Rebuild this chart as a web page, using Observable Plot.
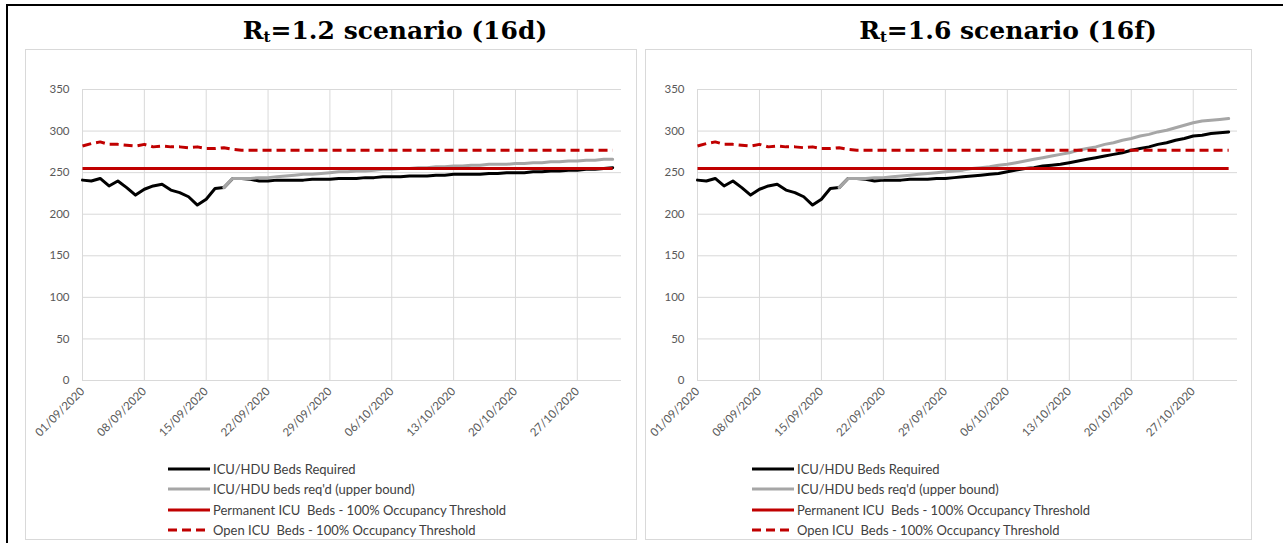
<!DOCTYPE html>
<html>
<head>
<meta charset="utf-8">
<script src="https://cdn.jsdelivr.net/npm/d3@7"></script>
<script src="https://cdn.jsdelivr.net/npm/@observablehq/plot@0.6"></script>
<style>
  html, body { margin: 0; padding: 0; background: #fff; overflow: hidden; }
  #page { position: relative; width: 1283px; height: 543px; overflow: hidden; background: #fff; }
  .bline { position: absolute; background: #000; }
  .panel { position: absolute; border: 1px solid #d9d9d9; box-sizing: border-box; background: #fff; }
  .panel svg { position: absolute; left: 0; top: 0; }
  .title { position: absolute; font-family: "DejaVu Serif", serif; font-weight: bold; font-size: 25px; color: #000; white-space: nowrap; transform: translateX(-50%); line-height: 1; }
  .title sub { font-size: 15px; vertical-align: -3px; line-height: 0; }
  .legend { position: absolute; font-family: Lato, "Noto Sans", sans-serif; font-size: 13px; color: #404040; }
  .legend .row { display: flex; align-items: center; height: 20.3px; white-space: pre; }
  .legend svg { position: static; margin-right: 3px; }
</style>
</head>
<body>
<div id="page"></div>
<script>
// ---------------- data ----------------
const startDate = "01/09/2020";           // first day of every series
const xTickLabels = ["01/09/2020","08/09/2020","15/09/2020","22/09/2020","29/09/2020","06/10/2020","13/10/2020","20/10/2020","27/10/2020"];
const xDomain = ["01/09/2020", "01/11/2020"];
const yTicks = [0, 50, 100, 150, 200, 250, 300, 350];

const seriesNames = [
  "ICU/HDU Beds Required",
  "ICU/HDU beds req'd (upper bound)",
  "Permanent ICU  Beds - 100% Occupancy Threshold",
  "Open ICU  Beds - 100% Occupancy Threshold"
];
const seriesColors = ["#000000", "#a6a6a6", "#c00000", "#c00000"];

// ICU/HDU beds required, 01/09 .. 31/10 (Rt = 1.2)
const requiredRt12 = [241,240,243,234,240,232,223,230,234,236,229,226,221,211,218,231,232,
  243,243,242,240,240,241,241,241,241,242,242,242,243,243,243,244,244,245,245,245,246,246,246,
  247,247,248,248,248,248,249,249,250,250,250,251,251,252,252,253,253,254,254,255,256];
// upper bound, starting 17/09 (Rt = 1.2)
const upperStart = "17/09/2020";
const upperRt12 = [232,243,243,243,244,244,245,246,247,248,248,249,250,251,251,252,252,253,254,254,
  255,255,256,256,257,257,258,258,259,259,260,260,260,261,261,262,262,263,263,264,264,265,265,266,266];

// ICU/HDU beds required, 01/09 .. 31/10 (Rt = 1.6)
const requiredRt16 = [241,240,243,234,240,232,223,230,234,236,229,226,221,211,218,231,232,
  243,243,242,240,241,241,241,242,242,242,243,243,244,245,246,247,248,249,251,253,255,256,258,
  259,260,262,264,266,268,270,272,274,277,279,281,284,286,289,291,294,295,297,298,299];
// upper bound, starting 17/09 (Rt = 1.6)
const upperRt16 = [232,243,243,243,244,244,245,246,247,248,249,250,251,252,253,255,256,257,259,260,
  262,264,266,268,270,272,274,277,279,281,284,286,289,291,294,296,299,301,304,307,310,312,313,314,315];

const permanentBeds = 255;
const permanentEnd = "31/10/2020";
// open ICU beds, 01/09 .. 31/10
const openBeds = [282,285,287,284,284,283,282,284,281,282,281,281,280,281,279,279,280,278,277,277,
  277,277,277,277,277,277,277,277,277,277,277,277,277,277,277,277,277,277,277,277,
  277,277,277,277,277,277,277,277,277,277,277,277,277,277,277,277,277,277,277,277,277];

const titles = [
  {main: "R", sub: "t", rest: "=1.2 scenario (16d)"},
  {main: "R", sub: "t", rest: "=1.6 scenario (16f)"}
];

// ---------------- helpers ----------------
const parse = d3.utcParse("%d/%m/%Y");
const DAY = 864e5;
function daily(values, start) {
  const t0 = parse(start).getTime();
  return values.map((v, i) => ({date: new Date(t0 + i * DAY), value: v}));
}
const tickDates = xTickLabels.map(parse);
const tickLabelOf = new Map(xTickLabels.map(s => [parse(s).getTime(), s]));

const page = document.getElementById("page");
function el(tag, cls, style, html) {
  const e = document.createElement(tag);
  if (cls) e.className = cls;
  Object.assign(e.style, style || {});
  if (html != null) e.innerHTML = html;
  page.appendChild(e);
  return e;
}

// outer black frame (top and left)
el("div", "bline", {left: "6px", top: "4px", width: "1277px", height: "2px"});
el("div", "bline", {left: "6px", top: "4px", width: "2px", height: "539px"});

function makeChart(cfg) {
  const panel = el("div", "panel", {left: cfg.left + "px", top: "49px", width: cfg.width + "px", height: "491px"});
  const req = daily(cfg.required, startDate);
  const up = daily(cfg.upper, upperStart);
  const open = daily(openBeds, startDate);
  const perm = [{date: parse(startDate), value: permanentBeds}, {date: parse(permanentEnd), value: permanentBeds}];
  const lineOpts = {x: "date", y: "value", strokeWidth: 3, strokeLinejoin: "round", strokeLinecap: "round"};
  const svg = Plot.plot({
    width: cfg.width - 2,
    height: 400,
    marginLeft: cfg.marginLeft,
    marginRight: cfg.marginRight,
    marginTop: 39,
    marginBottom: 70,
    style: {fontFamily: "Lato, 'Noto Sans', sans-serif", background: "transparent", overflow: "visible"},
    x: {type: "utc", domain: xDomain.map(parse)},
    y: {domain: [0, 350]},
    marks: [
      Plot.gridY(yTicks, {stroke: "#d9d9d9", strokeOpacity: 1, strokeWidth: 1}),
      Plot.gridX(tickDates, {stroke: "#d9d9d9", strokeOpacity: 1, strokeWidth: 1}),
      Plot.axisY(yTicks, {tickSize: 0, tickPadding: 13, fill: "#595959", fontSize: 11.5, label: null}),
      Plot.axisX(tickDates, {tickSize: 0, tickPadding: 9, tickRotate: -45, fill: "#595959", fontSize: 11.5, label: null,
        tickFormat: d => tickLabelOf.get(d.getTime())}),
      Plot.line(req, {...lineOpts, stroke: seriesColors[0]}),
      Plot.line(up, {...lineOpts, stroke: seriesColors[1]}),
      Plot.line(perm, {...lineOpts, stroke: seriesColors[2], strokeLinecap: "butt"}),
      Plot.line(open, {...lineOpts, stroke: seriesColors[3], strokeDasharray: "9,5", strokeLinecap: "butt"})
    ]
  });
  panel.appendChild(svg);

  const t = cfg.title;
  el("div", "title", {left: cfg.titleX + "px", top: "18px"}, `${t.main}<sub>${t.sub}</sub>${t.rest}`);

  const lg = el("div", "legend", {left: cfg.legendX + "px", top: "459px"});
  seriesNames.forEach((name, i) => {
    const row = document.createElement("div");
    row.className = "row";
    const dash = i === 3 ? ' stroke-dasharray="9,5"' : "";
    row.innerHTML = `<svg width="42" height="6"><line x1="0" x2="42" y1="3" y2="3" stroke="${seriesColors[i]}" stroke-width="3"${dash}/></svg><span>${name}</span>`;
    lg.appendChild(row);
  });
}

makeChart({left: 25, width: 612, marginLeft: 56, marginRight: 15, required: requiredRt12, upper: upperRt12,
  title: titles[0], titleX: 395, legendX: 168});
makeChart({left: 645, width: 607, marginLeft: 51, marginRight: 14, required: requiredRt16, upper: upperRt16,
  title: titles[1], titleX: 1008, legendX: 752});
</script>
</body>
</html>
